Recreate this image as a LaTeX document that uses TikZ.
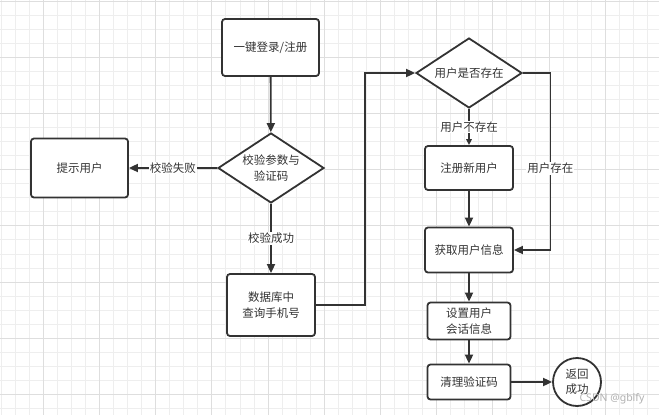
\documentclass[tikz,border=0pt]{standalone}
\usepackage{fontspec}
\setmainfont{Noto Sans CJK SC}
\setsansfont{Noto Sans}
\usepackage{xcolor}
\usepackage{tikz}
\usetikzlibrary{arrows.meta,shapes.geometric}

\definecolor{ink}{HTML}{333333}
\definecolor{gridminor}{HTML}{EEEEEE}
\definecolor{gridmajor}{HTML}{DEDEDE}

\begin{document}
\begin{tikzpicture}[
	txt/.style={font=\fontsize{11.5}{15.5}\selectfont,text=ink,align=center},
	box/.style={txt,draw=ink,line width=1.8pt,rounded corners=3pt,fill=white,inner sep=0pt},
	decision/.style={txt,draw=ink,line width=1.8pt,diamond,aspect=1.5,inner sep=0pt,minimum width=106pt,minimum height=70pt,fill=white},
	endpoint/.style={txt,draw=ink,line width=1.8pt,circle,inner sep=0pt,minimum size=48pt,fill=white},
	line/.style={draw=ink,line width=1.8pt,-{Triangle[length=9pt,width=8pt]}},
	shortline/.style={draw=ink,line width=1.8pt,-{Triangle[length=6pt,width=5.5pt]}},
	tag/.style={txt,fill=white,inner sep=1pt},
	minorline/.style={draw=gridminor,line width=1pt},
	majorline/.style={draw=gridmajor,line width=1pt}
]
	\begin{scope}[x=1pt,y=-1pt]
		\fill[white] (0,0) rectangle (659,415);
		\useasboundingbox (0,0) rectangle (659,415);

		% background grid
		\foreach \k [evaluate=\k as \gx using 1.15+14.05*\k] in {0,...,46}
			\draw[minorline] (\gx,0) -- (\gx,415);
		\foreach \k [evaluate=\k as \gy using 1.1+14.05*\k] in {0,...,29}
			\draw[minorline] (0,\gy) -- (659,\gy);
		\foreach \k [evaluate=\k as \gx using 1.15+14.05*\k] in {3,7,...,43}
			\draw[majorline] (\gx,0) -- (\gx,415);
		\foreach \k [evaluate=\k as \gy using 1.1+14.05*\k] in {0,4,...,28}
			\draw[majorline] (0,\gy) -- (659,\gy);

		% left column
		\node[box,minimum width=97pt,minimum height=57pt] (login) at (270.5,47.5) {一键登录/注册};
		\node[decision] (check) at (271,168) {校验参数与\\验证码};
		\node[box,minimum width=97pt,minimum height=59pt] (tip) at (79.5,168) {提示用户};
		\node[box,minimum width=88pt,minimum height=62pt] (query) at (271,305) {数据库中\\查询手机号};

		% right column
		\node[decision] (exist) at (469,73) {用户是否存在};
		\node[box,minimum width=88pt,minimum height=44pt] (register) at (469,168) {注册新用户};
		\node[box,minimum width=88pt,minimum height=45pt] (info) at (469,250) {获取用户信息};
		\node[box,minimum width=83pt,minimum height=37pt] (session) at (469,321) {设置用户\\会话信息};
		\node[box,minimum width=83pt,minimum height=35pt] (clean) at (469,382) {清理验证码};
		\node[endpoint] (done) at (577,382) {返回\\成功};

		\draw[line] (login) -- (check);
		\draw[line] (check) -- node[tag] {校验失败} (tip);
		\draw[line] (check) -- node[tag] {校验成功} (query);
		\draw[line] (query.east) -- ++(49,0) |- (exist.west);
		\draw[shortline] (exist) -- node[tag] {用户不存在} (register);
		\draw[line] (exist.east) -- ++(27.5,0) |- node[tag,pos=0.27] {用户存在} (info.east);
		\draw[line] (register) -- (info);
		\draw[line] (info) -- (session);
		\draw[line] (session) -- (clean);
		\draw[line] (clean) -- (done);

		\node[font=\fontsize{10.5}{12}\sffamily,text=black!30] (mark) at (612,399) {CSDN @gblfy};
	\end{scope}
\end{tikzpicture}
\end{document}
